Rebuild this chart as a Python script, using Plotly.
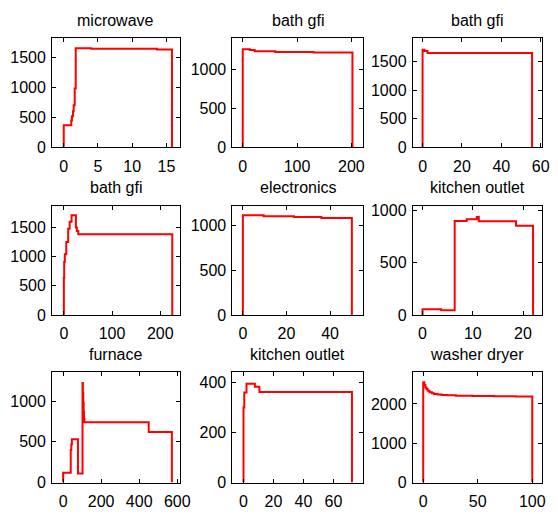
import plotly.graph_objects as go

# ---- data (time, power) as step series ----
titles = ["microwave", "bath gfi", "bath gfi", "bath gfi", "electronics",
          "kitchen outlet", "furnace", "kitchen outlet", "washer dryer"]

mw_t = [0, 0, 1.1, 1.2, 1.35, 1.45, 1.6, 1.75, 4.0, 13.6, 15.8]
mw_p = [0, 370, 450, 520, 600, 700, 980, 1650, 1640, 1630, 0]

bg1_t = [0, 0, 13, 22, 60, 130, 202]
bg1_p = [0, 1265, 1255, 1240, 1228, 1222, 0]

bg2_t = [0, 0, 1, 2.5, 55.6]
bg2_p = [0, 1710, 1690, 1655, 0]

bg3_t = [0, 0, 0.7, 2, 5, 9, 12, 16, 25, 27, 30, 225]
bg3_p = [0, 640, 910, 1040, 1250, 1480, 1600, 1710, 1500, 1440, 1385, 0]

el_t = [0, 0, 9.5, 23.5, 36, 50]
el_p = [0, 1115, 1105, 1095, 1085, 0]

ko1_t = [0, 0, 3.7, 6.4, 8.8, 10.8, 11.2, 18.6, 22]
ko1_p = [0, 55, 45, 900, 916, 938, 897, 855, 0]

fu_t = [0, 0, 40, 43, 46, 78, 102, 104, 106, 108, 110, 112, 450, 572]
fu_p = [0, 120, 400, 470, 530, 110, 1220, 1100, 980, 870, 780, 740, 620, 0]

ko2_t = [0, 0, 0.5, 2, 7.6, 10.6, 72.4]
ko2_p = [0, 300, 360, 395, 383, 362, 0]

wd_t = [0, 0, 1, 2, 3, 4, 5, 6, 8, 10, 13, 17, 22, 30, 45, 65, 85, 100]
wd_p = [0, 2550, 2480, 2420, 2380, 2345, 2320, 2300, 2275, 2255, 2240, 2228,
        2218, 2210, 2203, 2198, 2192, 0]

series = [(mw_t, mw_p), (bg1_t, bg1_p), (bg2_t, bg2_p), (bg3_t, bg3_p),
          (el_t, el_p), (ko1_t, ko1_p), (fu_t, fu_p), (ko2_t, ko2_p), (wd_t, wd_p)]

x_ranges = [[-1.7, 16.9], [-19, 221], [-5, 60.7], [-24.4, 240], [-4.8, 55],
            [-1.95, 23.8], [-58, 612], [-7.4, 79.6], [-9.6, 109]]
y_ranges = [[0, 1815], [0, 1405], [0, 1910], [0, 1870], [0, 1220],
            [0, 1045], [0, 1350], [0, 440], [0, 2800]]
x_ticks = [[0, 5, 10, 15], [0, 100, 200], [0, 20, 40, 60], [0, 100, 200],
           [0, 20, 40], [0, 10, 20], [0, 200, 400, 600], [0, 20, 40, 60], [0, 50, 100]]
y_ticks = [[0, 500, 1000, 1500], [0, 500, 1000], [0, 500, 1000, 1500],
           [0, 500, 1000, 1500], [0, 500, 1000], [0, 500, 1000],
           [0, 500, 1000], [0, 200, 400], [0, 1000, 2000]]

# ---- layout geometry (window pixels); page body has an 8px margin ----
OFF = 8
W, H = 558 - OFF, 514 - OFF
col_px = [(53, 183), (237, 370), (421, 553)]
row_px = [(35, 147), (207, 319), (378, 491)]

FONT = "Liberation Sans, Arial, Helvetica, sans-serif"
fig = go.Figure()
annotations = []
layout = {}
for i, (t, p) in enumerate(series):
    r, c = divmod(i, 3)
    n = "" if i == 0 else str(i + 1)
    fig.add_trace(go.Scatter(x=t, y=p, mode="lines", line=dict(color="#ff0000", width=2, shape="hv"),
                             xaxis="x" + n, yaxis="y" + n, showlegend=False, hoverinfo="skip"))
    x0, x1 = (v - OFF for v in col_px[c])
    y0, y1 = (v - OFF for v in row_px[r])
    common = dict(showgrid=False, zeroline=False, showline=True, linecolor="black", linewidth=1,
                  mirror="ticks", ticks="inside", ticklen=4, tickcolor="black",
                  tickfont=dict(family=FONT, size=16, color="black"))
    layout["xaxis" + n] = dict(domain=[x0 / W, x1 / W], range=x_ranges[i], tickvals=x_ticks[i],
                               anchor="y" + n, ticklabelstandoff=4, **common)
    layout["yaxis" + n] = dict(domain=[1 - y1 / H, 1 - y0 / H], range=y_ranges[i], tickvals=y_ticks[i],
                               anchor="x" + n, ticklabelstandoff=2, **common)
    annotations.append(dict(text=titles[i], x=(x0 + x1) / 2 / W, y=1 - y0 / H, xref="paper", yref="paper",
                            xanchor="center", yanchor="middle", yshift=18, showarrow=False,
                            font=dict(family=FONT, size=16, color="black")))

fig.update_layout(**layout)
fig.update_layout(width=W, height=H, margin=dict(l=0, r=0, t=0, b=0),
                  paper_bgcolor="white", plot_bgcolor="white", annotations=annotations)
fig.write_html("out.html")
